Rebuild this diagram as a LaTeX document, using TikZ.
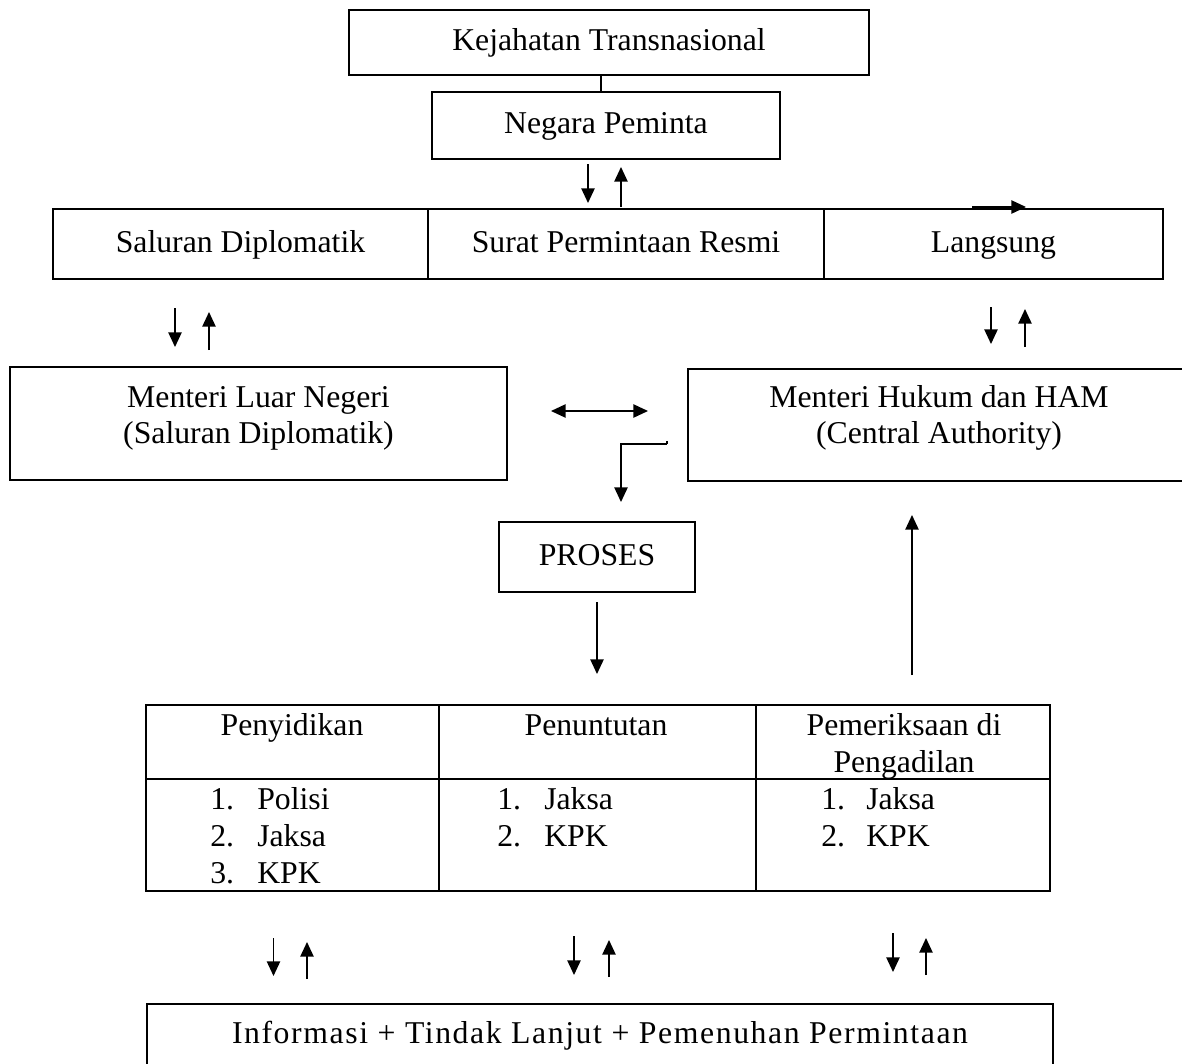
\documentclass[tikz,border=0pt]{standalone}
\usepackage{fontspec}
\setmainfont{Liberation Serif}
\usetikzlibrary{arrows.meta}
\begin{document}
\begin{tikzpicture}[x=0.75pt,y=-0.75pt,
  every node/.style={font=\fontsize{23.8}{27.75}\selectfont},
  box/.style={draw, line width=1.6pt, inner sep=0pt, text height=1.42em, text depth=0.2em},
  cell/.style={draw, line width=1.6pt, inner sep=0pt},
  txt/.style={anchor=base, inner sep=0pt},
  num/.style={anchor=base west, inner sep=0pt},
  ln/.style={line width=1.1pt},
  arr/.style={line width=1.1pt, -{Triangle[length=11pt,width=10pt]}},
  darr/.style={line width=1.1pt, {Triangle[length=11pt,width=10pt]}-{Triangle[length=11pt,width=10pt]}}]
\useasboundingbox (0,0) rectangle (1182,1064);
\clip (0,0) rectangle (1182,1064);
\fill[white] (0,0) rectangle (1182,1064);

% top boxes
\node[box, minimum width=390pt, minimum height=48.75pt] (kej) at (609,42.5) {Kejahatan Transnasional};
\node[box, minimum width=261pt, minimum height=50.25pt] (neg) at (606,125.5) {Negara Peminta};
\coordinate (k1) at (601,0);
\draw[ln] (kej.south -| k1) -- (neg.north -| k1);

% row of channels
\node[box, minimum width=281.25pt, minimum height=52.5pt] (sal) at (240.5,244) {Saluran Diplomatik};
\node[box, minimum width=297pt, minimum height=52.5pt] (sur) at (626,244) {Surat Permintaan Resmi};
\node[box, minimum width=254.25pt, minimum height=52.5pt] (lang) at (993.5,244) {Langsung};

% ministries
\node[cell, minimum width=372.75pt, minimum height=84.75pt] (luar) at (258.5,423.5) {};
\node[txt] (luarA) at (258.5,407) {Menteri Luar Negeri};
\node[txt] (luarB) at (258.5,443) {(Saluran Diplomatik)};
\node[cell, minimum width=376.5pt, minimum height=84pt] (huk) at (939,425) {};
\node[txt] (hukA) at (939,407) {Menteri Hukum dan HAM};
\node[txt] (hukB) at (939,443) {(Central Authority)};

% proses
\node[box, minimum width=147pt, minimum height=52.5pt] (pro) at (597,557) {PROSES};

% table
\node[cell, minimum width=219.75pt, minimum height=55.5pt] (h1) at (292.5,742) {};
\node[cell, minimum width=237.75pt, minimum height=55.5pt] (h2) at (597.5,742) {};
\node[cell, minimum width=220.5pt, minimum height=55.5pt] (h3) at (903,742) {};
\node[cell, minimum width=219.75pt, minimum height=84pt] (b1) at (292.5,835) {};
\node[cell, minimum width=237.75pt, minimum height=84pt] (b2) at (597.5,835) {};
\node[cell, minimum width=220.5pt, minimum height=84pt] (b3) at (903,835) {};
\node[txt] (t1) at (292,735) {Penyidikan};
\node[txt] (t2) at (596,735) {Penuntutan};
\node[txt] (t3a) at (904,735) {Pemeriksaan di};
\node[txt] (t3b) at (904,772) {Pengadilan};
\node[num] (n11) at (210,809) {1.};
\node[num] (i11) at (257,809) {Polisi};
\node[num] (n12) at (210,846) {2.};
\node[num] (i12) at (257,846) {Jaksa};
\node[num] (n13) at (210,883) {3.};
\node[num] (i13) at (257,883) {KPK};
\node[num] (n21) at (497,809) {1.};
\node[num] (i21) at (544,809) {Jaksa};
\node[num] (n22) at (497,846) {2.};
\node[num] (i22) at (544,846) {KPK};
\node[num] (n31) at (821,809) {1.};
\node[num] (i31) at (866,809) {Jaksa};
\node[num] (n32) at (821,846) {2.};
\node[num] (i32) at (866,846) {KPK};

% bottom box
\node[cell, minimum width=679.5pt, minimum height=72pt] (bot) at (600,1052) {};
\node[txt] (botT) at (600,1043) {\addfontfeature{LetterSpace=5}Informasi + Tindak Lanjut + Pemenuhan Permintaan};

% free arrows (named end points)
\coordinate (a1s) at (588,164); \coordinate (a1e) at (588,203);
\coordinate (a2s) at (621,207); \coordinate (a2e) at (621,167);
\draw[arr] (a1s) -- (a1e);
\draw[arr] (a2s) -- (a2e);

\coordinate (lt1) at (972,207); \coordinate (lt2) at (1026,207);
\draw[arr] (lt1) -- (lt2);

\coordinate (b1s) at (175,308); \coordinate (b1e) at (175,347);
\coordinate (b2s) at (209,350); \coordinate (b2e) at (209,312);
\draw[arr] (b1s) -- (b1e);
\draw[arr] (b2s) -- (b2e);

\coordinate (c1s) at (991,307); \coordinate (c1e) at (991,344);
\coordinate (c2s) at (1025,347); \coordinate (c2e) at (1025,309);
\draw[arr] (c1s) -- (c1e);
\draw[arr] (c2s) -- (c2e);

\coordinate (d1) at (551,411); \coordinate (d2) at (648,411);
\draw[darr] (d1) -- (d2);

\coordinate (e0) at (667,441); \coordinate (e1) at (667,444);
\coordinate (e2) at (621,444); \coordinate (e3) at (621,502);
\draw[ln] (e0) -- (e1);
\draw[arr] (e1) -- (e2) -- (e3);

\coordinate (p1) at (597,602); \coordinate (p2) at (597,674);
\draw[arr] (p1) -- (p2);

\coordinate (u1) at (912,675); \coordinate (u2) at (912,515);
\draw[arr] (u1) -- (u2);

\coordinate (f1s) at (273.5,938); \coordinate (f1e) at (273.5,976);
\coordinate (f2s) at (307,979); \coordinate (f2e) at (307,942);
\coordinate (g1s) at (574,936); \coordinate (g1e) at (574,975);
\coordinate (g2s) at (609,977); \coordinate (g2e) at (609,940);
\coordinate (h1s) at (893,933); \coordinate (h1e) at (893,972);
\coordinate (h2s) at (926,975); \coordinate (h2e) at (926,938);
\draw[arr] (f1s) -- (f1e);
\draw[arr] (f2s) -- (f2e);
\draw[arr] (g1s) -- (g1e);
\draw[arr] (g2s) -- (g2e);
\draw[arr] (h1s) -- (h1e);
\draw[arr] (h2s) -- (h2e);
\end{tikzpicture}
\end{document}
